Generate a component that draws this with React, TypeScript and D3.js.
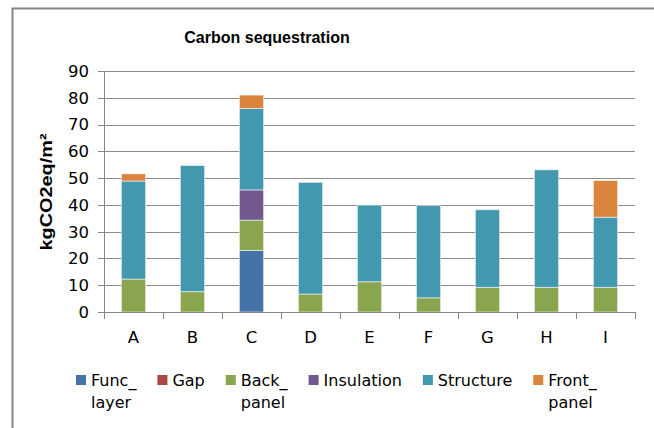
import React, { useEffect, useRef } from "react";
import * as d3 from "d3";

const categories = ["A", "B", "C", "D", "E", "F", "G", "H", "I"];
const seriesNames = ["Func_layer", "Gap", "Back_panel", "Insulation", "Structure", "Front_panel"];
const seriesColors = ["#4572A7", "#AA4643", "#89A54E", "#71588F", "#4198AF", "#DB843D"];
const funcLayer = [0, 0, 23.0, 0, 0, 0, 0, 0, 0];
const gap = [0, 0, 0, 0, 0, 0, 0, 0, 0];
const backPanel = [12.3, 7.6, 11.3, 6.7, 11.3, 5.3, 9.2, 9.2, 9.2];
const insulation = [0, 0, 11.3, 0, 0, 0, 0, 0, 0];
const structure = [36.6, 47.1, 30.4, 41.7, 28.6, 34.4, 29.0, 43.9, 26.2];
const frontPanel = [2.7, 0, 5.0, 0, 0, 0, 0, 0, 13.7];
const yTicks = [0, 10, 20, 30, 40, 50, 60, 70, 80, 90];
const title = "Carbon sequestration";
const yLabel = "kgCO2eq/m²";

export default function App() {
  const ref = useRef<SVGSVGElement | null>(null);

  useEffect(() => {
    const svg = d3.select(ref.current);
    svg.selectAll("*").remove();
    const W = 654, H = 428;
    const left = 104, right = 635, top = 71, bottom = 312;

    // frame
    svg.append("path").attr("d", `M12.5,${H + 5} V8.5 H${W + 5}`)
      .attr("fill", "none").attr("stroke", "#868686").attr("stroke-width", 2);

    // title
    svg.append("text").attr("x", 267).attr("y", 43).attr("text-anchor", "middle")
      .attr("font-family", "Liberation Sans, Arial, sans-serif").attr("font-weight", "bold")
      .attr("font-size", 16).attr("fill", "#000").text(title);

    const x = d3.scaleBand<string>().domain(categories).range([left, right]).padding(0);
    const y = d3.scaleLinear().domain([0, 90]).range([bottom, top]);
    const step = x.step();
    const barW = step * 0.41;

    // gridlines
    svg.append("g").selectAll("line").data(yTicks.filter(t => t > 0)).join("line")
      .attr("x1", left).attr("x2", right)
      .attr("y1", d => Math.round(y(d)) + 0.5).attr("y2", d => Math.round(y(d)) + 0.5)
      .attr("stroke", "#8c8c8c").attr("stroke-width", 1);

    // bars
    const series = [funcLayer, gap, backPanel, insulation, structure, frontPanel];
    const table = categories.map((c, i) => {
      const row: any = { cat: c };
      seriesNames.forEach((s, k) => (row[s] = series[k][i]));
      return row;
    });
    const stacked = d3.stack().keys(seriesNames)(table);
    const gBars = svg.append("g");
    stacked.forEach((layer, k) => {
      gBars.append("g").selectAll("rect").data(layer.filter(d => d[1] - d[0] > 0)).join("rect")
        .attr("x", d => (x((d.data as any).cat) as number) + (step - barW) / 2)
        .attr("width", barW)
        .attr("y", d => y(d[1]))
        .attr("height", d => y(d[0]) - y(d[1]))
        .attr("fill", seriesColors[k])
        .attr("stroke", "rgba(255,255,255,0.55)")
        .attr("stroke-width", 1);
    });

    // y axis
    const axisColor = "#868686";
    svg.append("line").attr("x1", left + 0.5).attr("x2", left + 0.5).attr("y1", top).attr("y2", bottom + 0.5)
      .attr("stroke", axisColor);
    svg.append("g").selectAll("line").data(yTicks).join("line")
      .attr("x1", left - 6).attr("x2", left)
      .attr("y1", d => Math.round(y(d)) + 0.5).attr("y2", d => Math.round(y(d)) + 0.5)
      .attr("stroke", axisColor);
    svg.append("g").selectAll("text").data(yTicks).join("text")
      .attr("x", 89).attr("y", d => y(d)).attr("dy", "0.36em").attr("text-anchor", "end")
      .attr("font-family", "DejaVu Sans, sans-serif").attr("font-size", 16.5).attr("fill", "#000")
      .text(d => String(d));

    // x axis
    svg.append("line").attr("x1", left - 6).attr("x2", right).attr("y1", bottom + 0.5).attr("y2", bottom + 0.5)
      .attr("stroke", axisColor);
    const bounds = categories.map(c => x(c) as number).concat([right]);
    svg.append("g").selectAll("line").data(bounds).join("line")
      .attr("x1", d => Math.round(d) + 0.5).attr("x2", d => Math.round(d) + 0.5)
      .attr("y1", bottom).attr("y2", bottom + 7)
      .attr("stroke", axisColor);
    svg.append("g").selectAll("text").data(categories).join("text")
      .attr("x", d => (x(d) as number) + step / 2).attr("y", 343).attr("text-anchor", "middle")
      .attr("font-family", "DejaVu Sans, sans-serif").attr("font-size", 16.5).attr("fill", "#000")
      .text(d => d);

    // y label
    svg.append("text").attr("transform", "translate(52,192) rotate(-90)")
      .attr("text-anchor", "middle")
      .attr("font-family", "Liberation Sans, Arial, sans-serif").attr("font-weight", "bold")
      .attr("font-size", 16).attr("fill", "#000")
      .attr("textLength", 117).attr("lengthAdjust", "spacingAndGlyphs")
      .text(yLabel);

    // legend (flow layout)
    const lg = svg.append("g");
    let cx = 76;
    seriesNames.forEach((name, k) => {
      const idx = name.indexOf("_");
      const line1 = idx >= 0 ? name.slice(0, idx + 1) : name;
      const line2 = idx >= 0 ? name.slice(idx + 1) : "";
      lg.append("rect").attr("x", cx).attr("y", 375).attr("width", 10).attr("height", 10)
        .attr("fill", seriesColors[k]);
      const t = lg.append("text").attr("x", cx + 15).attr("y", 386)
        .attr("font-family", "DejaVu Sans, sans-serif").attr("font-size", 16).attr("fill", "#000")
        .text(line1);
      const w = (t.node() as SVGTextElement).getComputedTextLength();
      if (line2) {
        lg.append("text").attr("x", cx + 15).attr("y", 408)
          .attr("font-family", "DejaVu Sans, sans-serif").attr("font-size", 16).attr("fill", "#000")
          .text(line2);
      }
      cx = cx + 15 + w + 21;
    });
  }, []);

  return (
    <svg ref={ref} width={654} height={428}
      style={{ position: "absolute", left: 0, top: 0, background: "#fff" }} />
  );
}
